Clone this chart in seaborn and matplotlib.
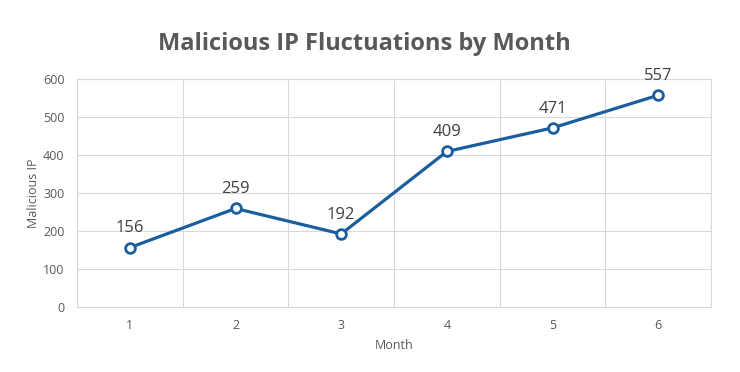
import matplotlib
matplotlib.use("Agg")
import matplotlib.pyplot as plt
import seaborn as sns
import pandas as pd
import numpy as np

months = ["1", "2", "3", "4", "5", "6"]
values = [156, 259, 192, 409, 471, 557]

sns.set_theme(style="white")
plt.rcParams['font.family'] = ['Open Sans', 'DejaVu Sans']

df = pd.DataFrame({"pos": np.arange(len(months)), "value": values})

fig = plt.figure(figsize=(7.4, 3.72), dpi=100)
ax = fig.add_axes([0.104, 0.175, 0.857, 0.613])

line_color = "#1B5E9E"
sns.lineplot(data=df, x="pos", y="value", ax=ax, color=line_color, linewidth=2.3,
             marker="o", markersize=7, markerfacecolor="white",
             markeredgecolor=line_color, markeredgewidth=2.0, zorder=3)

ax.set_xlim(-0.5, len(months) - 0.5)
ax.set_ylim(0, 600)
ax.set_yticks(range(0, 601, 100))
ax.set_xticks(df["pos"])
ax.set_xticklabels(months)
ax.set_xticks(np.arange(-0.5, len(months), 1.0), minor=True)

ax.grid(False)
ax.yaxis.grid(True, color="#d9d9d9", linewidth=0.8)
ax.xaxis.grid(True, which="minor", color="#d9d9d9", linewidth=0.8)
ax.set_axisbelow(True)
for s in ax.spines.values():
    s.set_color("#d9d9d9")
    s.set_linewidth(0.8)

ax.tick_params(axis="both", which="both", length=0, labelsize=9, labelcolor="#595959")
ax.tick_params(axis="y", pad=9)
ax.tick_params(axis="x", pad=9)

ax.set_xlabel("Month", fontsize=9, color="#595959", labelpad=5)
ax.set_ylabel("Malicious IP", fontsize=9, color="#595959", labelpad=2)

for x, v in zip(df["pos"], values):
    ax.annotate(str(v), (x, v), xytext=(0, 8), textcoords="offset points",
                ha="center", va="bottom", fontsize=12, color="#404040")

fig.text(0.493, 0.882, "Malicious IP Fluctuations by Month", ha="center", va="center",
         fontsize=17, fontweight="bold", color="#595959")

fig.savefig("out.png", dpi=100, facecolor="white")
